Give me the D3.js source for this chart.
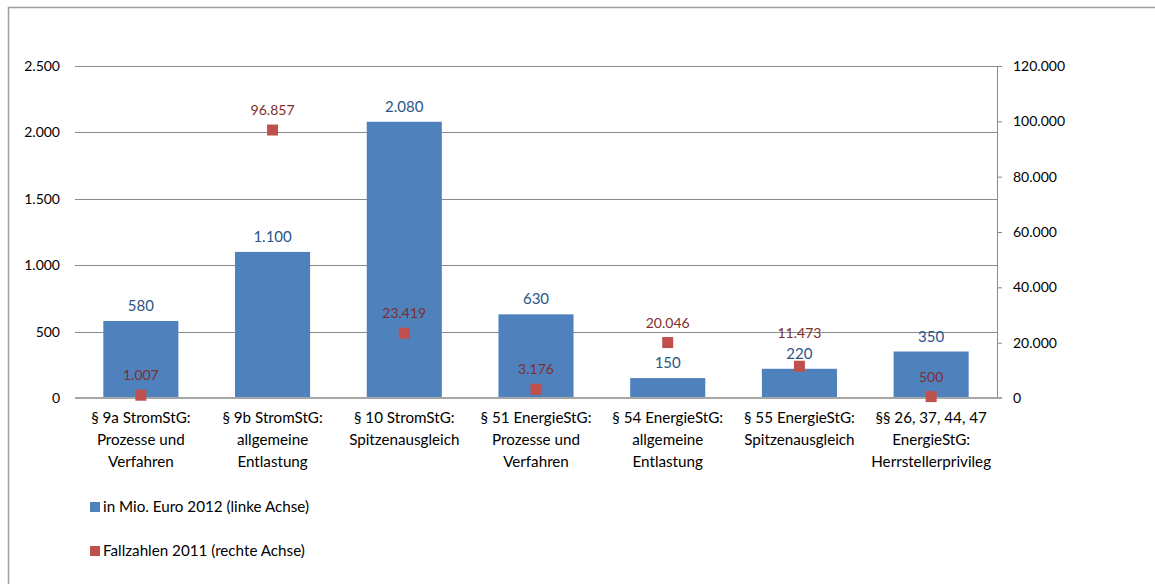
<!DOCTYPE html>
<html>
<head>
<meta charset="utf-8">
<script src="https://cdn.jsdelivr.net/npm/d3@7"></script>
<style>
  html, body { margin: 0; padding: 0; background: #fff; }
  svg { display: block; font-family: Lato, "Liberation Sans", sans-serif; }
</style>
</head>
<body>
<svg id="chart" width="1155" height="584"></svg>
<script>
// Kategorien (mehrzeilige Achsenbeschriftung)
const categories = [
  ["§ 9a StromStG:", "Prozesse und", "Verfahren"],
  ["§ 9b StromStG:", "allgemeine", "Entlastung"],
  ["§ 10 StromStG:", "Spitzenausgleich"],
  ["§ 51 EnergieStG:", "Prozesse und", "Verfahren"],
  ["§ 54 EnergieStG:", "allgemeine", "Entlastung"],
  ["§ 55 EnergieStG:", "Spitzenausgleich"],
  ["§§ 26, 37, 44, 47", "EnergieStG:", "Herrstellerprivileg"]
];
// in Mio. Euro 2012 (linke Achse)
const mioEuro = [580, 1100, 2080, 630, 150, 220, 350];
// Fallzahlen 2011 (rechte Achse)
const fallzahlen = [1007, 96857, 23419, 3176, 20046, 11473, 500];
const leftTicks = [0, 500, 1000, 1500, 2000, 2500];
const rightTicks = [0, 20000, 40000, 60000, 80000, 100000, 120000];
const legendLabels = ["in Mio. Euro 2012 (linke Achse)", "Fallzahlen 2011 (rechte Achse)"];

const fmt = d3.formatLocale({decimal: ",", thousands: ".", grouping: [3], currency: ["", " €"]}).format(",d");

const svg = d3.select("#chart");
const plot = {left: 75, right: 997, top: 66, bottom: 398};

const blue = "#4F81BD", red = "#C0504D";
const blueText = "#2B5587", redText = "#7F2E2C";
const textCol = "#000";

// Rahmen (oben und links)
svg.append("path")
  .attr("d", `M8.5,584 V7.5 H1155`)
  .attr("fill", "none").attr("stroke", "#a0a0a0").attr("stroke-width", 1.5);

const x = d3.scaleBand()
  .domain(d3.range(categories.length))
  .range([plot.left, plot.right])
  .paddingInner(0.43).paddingOuter(0.215);
const xc = d3.scaleBand()
  .domain(d3.range(categories.length))
  .range([plot.left, plot.right]);

const yL = d3.scaleLinear().domain([0, 2500]).range([plot.bottom, plot.top]);
const yR = d3.scaleLinear().domain([0, 120000]).range([plot.bottom, plot.top]);

// Gitternetzlinien (linke Achse)
svg.append("g").selectAll("line")
  .data(leftTicks.filter(d => d > 0))
  .join("line")
  .attr("x1", plot.left).attr("x2", plot.right)
  .attr("y1", d => Math.round(yL(d)) + 0.5).attr("y2", d => Math.round(yL(d)) + 0.5)
  .attr("stroke", "#8a8a8a").attr("stroke-width", 1);

// Linke Achse: nur Beschriftungen
const gL = svg.append("g").attr("transform", `translate(${plot.left},0)`)
  .call(d3.axisLeft(yL).tickValues(leftTicks).tickFormat(fmt).tickSize(0).tickPadding(15));
gL.select(".domain").remove();
gL.selectAll("text").attr("font-size", 14).attr("fill", textCol).attr("font-family", "Lato, sans-serif");

// Rechte Achse
const gR = svg.append("g").attr("transform", `translate(${plot.right},0)`)
  .call(d3.axisRight(yR).tickValues(rightTicks).tickFormat(fmt).tickSize(5).tickPadding(11));
gR.select(".domain").attr("stroke", "#8a8a8a");
gR.selectAll(".tick line").attr("stroke", "#8a8a8a");
gR.selectAll("text").attr("font-size", 14).attr("fill", textCol).attr("font-family", "Lato, sans-serif");

// Balken
svg.append("g").selectAll("rect")
  .data(mioEuro)
  .join("rect")
  .attr("x", (d, i) => x(i))
  .attr("width", x.bandwidth())
  .attr("y", d => yL(d))
  .attr("height", d => yL(0) - yL(d))
  .attr("fill", blue);

// Nulllinie
svg.append("line")
  .attr("x1", plot.left).attr("x2", plot.right + 5)
  .attr("y1", plot.bottom).attr("y2", plot.bottom)
  .attr("stroke", "#a6a6a6").attr("stroke-width", 2);

// Werte der Balken
const blueY = mioEuro.map(d => yL(d) - 10);
svg.append("g").selectAll("text")
  .data(mioEuro)
  .join("text")
  .attr("x", (d, i) => x(i) + x.bandwidth() / 2)
  .attr("y", (d, i) => blueY[i])
  .attr("text-anchor", "middle")
  .attr("font-size", 15)
  .attr("fill", blueText)
  .text(d => fmt(d));

// Marker Fallzahlen
const ms = 11;
svg.append("g").selectAll("rect")
  .data(fallzahlen)
  .join("rect")
  .attr("x", (d, i) => xc(i) + xc.bandwidth() / 2 - ms / 2)
  .attr("y", d => yR(d) - ms / 2)
  .attr("width", ms).attr("height", ms)
  .attr("fill", red);

// Beschriftung der Marker; bei Kollision mit dem Balkenwert nach oben versetzt
const redY = fallzahlen.map((d, i) => {
  const yy = yR(d) - 15;
  return Math.abs(yy - blueY[i]) < 17 ? blueY[i] - 21 : yy;
});
svg.append("g").selectAll("text")
  .data(fallzahlen)
  .join("text")
  .attr("x", (d, i) => xc(i) + xc.bandwidth() / 2)
  .attr("y", (d, i) => redY[i])
  .attr("text-anchor", "middle")
  .attr("font-size", 14)
  .attr("fill", redText)
  .text(d => fmt(d));

// Kategorienbeschriftung
const cat = svg.append("g").selectAll("text")
  .data(categories)
  .join("text")
  .attr("text-anchor", "middle")
  .attr("font-size", 15.2)
  .attr("fill", textCol);
cat.each(function(lines, i) {
  const t = d3.select(this);
  lines.forEach((ln, k) => {
    t.append("tspan")
      .attr("x", xc(i) + xc.bandwidth() / 2)
      .attr("y", 423 + k * 22)
      .text(ln);
  });
});

// Legende
const leg = svg.append("g");
const legColors = [blue, red];
legendLabels.forEach((lbl, k) => {
  const y0 = 507 + k * 44;
  leg.append("rect").attr("x", 90).attr("y", y0 - 5).attr("width", 10).attr("height", 10).attr("fill", legColors[k]);
  leg.append("text").attr("x", 103).attr("y", y0 + 5).attr("font-size", 15.2).attr("fill", textCol).text(lbl);
});
</script>
</body>
</html>
